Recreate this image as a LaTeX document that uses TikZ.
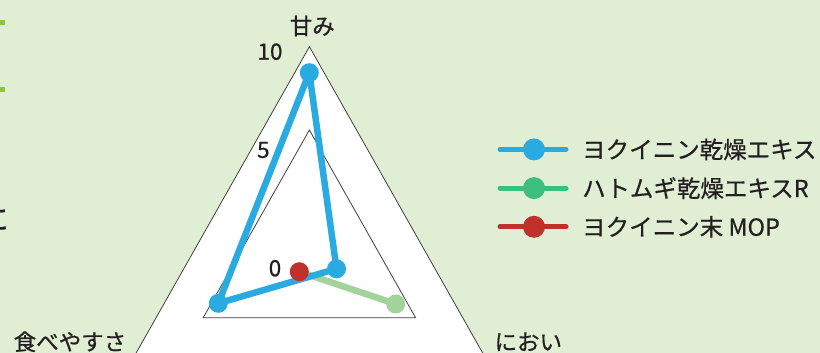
\documentclass[tikz,border=0pt]{standalone}
\usepackage{fontspec}
\newfontfamily\jp[FakeBold=0.6]{Noto Sans CJK JP}
\definecolor{bg}{HTML}{E0EED4}
\definecolor{yokublue}{HTML}{29ABE2}
\definecolor{hatogreen}{HTML}{3DBE7C}
\definecolor{hatolight}{HTML}{A1D39B}
\definecolor{mopred}{HTML}{C1312B}
\definecolor{bulletgreen}{HTML}{8CC63F}
\definecolor{ink}{HTML}{231F20}

\begin{document}
\begin{tikzpicture}[x=1pt,y=-1pt,
    lbl/.style={font=\jp\fontsize{22.5}{26}\selectfont, text=ink, inner sep=0pt},
    tri/.style={draw=black!75, line width=0.8pt, fill=white, line join=miter},
    series/.style={line width=6.5pt, line join=round, line cap=round},
    dot/.style={circle, fill, inner sep=0pt, minimum size=19pt},
    keyline/.style={line width=5pt, line cap=round}]
  \fill[bg] (0,0) rectangle (820,353);
  \clip (0,0) rectangle (820,353);
  % page edge bits
  \fill[bulletgreen] (0,20.3) rectangle (4.7,25);
  \fill[bulletgreen] (0,87.3) rectangle (4.7,92);
  \node[lbl, anchor=east, font=\jp\fontsize{30}{30}\selectfont] (cut) at (9,219) {に};
  % grid triangles
  \coordinate (top10) at (309.4,46.7);
  \coordinate (left10) at (132.5,359.4);
  \coordinate (right10) at (486.3,359.4);
  \coordinate (top5) at (309.4,130);
  \coordinate (left5) at (203.2,317.7);
  \coordinate (right5) at (415.6,317.7);
  \draw[tri] (top10) -- (left10) -- (right10) -- cycle;
  \draw[tri] (top5) -- (left5) -- (right5) -- cycle;
  \node[lbl] (tick10) at (270,51.7) {10};
  \node[lbl] (tick5) at (263.3,150) {5};
  \node[lbl] (tick0) at (275,268.3) {0};
  \node[lbl] (sweet) at (312.3,26) {甘み};
  \node[lbl] (eat) at (70,341.7) {食べやすさ};
  \node[lbl] (smell) at (528.3,341.7) {におい};
  % data
  \coordinate (zero) at (299.3,271.7);
  \coordinate (blueS) at (309.3,72.7);
  \coordinate (blueN) at (336.5,268.8);
  \coordinate (blueE) at (218.3,303.3);
  \coordinate (greenN) at (395.7,304);
  \draw[series, hatolight] (zero) -- (greenN);
  \node[dot, hatolight] (g1) at (greenN) {};
  \draw[series, yokublue] (blueE) -- (blueS) -- (blueN) -- cycle;
  \node[dot, yokublue] (b1) at (blueS) {};
  \node[dot, yokublue] (b2) at (blueN) {};
  \node[dot, yokublue] (b3) at (blueE) {};
  \node[dot, mopred] (r1) at (zero) {};
  % legend
  \foreach \c/\t [count=\i] in {yokublue/ヨクイニン乾燥エキス, hatogreen/ハトムギ乾燥エキスR, mopred/ヨクイニン末 MOP} {
    \coordinate (ka\i) at (500,110.7+38.7*\i);
    \coordinate (kb\i) at (566,110.7+38.7*\i);
    \draw[keyline, \c] (ka\i) -- (kb\i);
    \node[dot, \c, minimum size=22pt] (kd\i) at (534,110.7+38.7*\i) {};
    \node[lbl, anchor=west, font=\jp\fontsize{23.5}{28}\selectfont] (kt\i) at (582,110.7+38.7*\i) {\t};
  }
\end{tikzpicture}
\end{document}
